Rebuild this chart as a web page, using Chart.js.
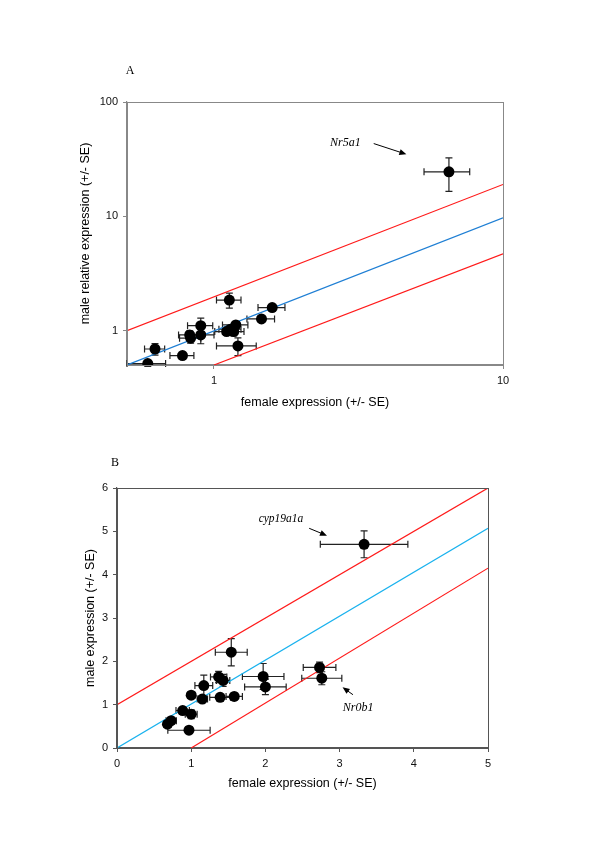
<!DOCTYPE html>
<html>
<head>
<meta charset="utf-8">
<title>Male vs female expression</title>
<script src="https://cdn.jsdelivr.net/npm/chart.js@4.4.1/dist/chart.umd.min.js"></script>
<style>
    html, body { margin: 0; padding: 0; background: #fff; }
    body { width: 600px; height: 854px; position: relative; overflow: hidden; }
    .panel { position: absolute; left: 0; width: 600px; }
    #wrapA { top: 0; height: 420px; }
    #wrapB { top: 420px; height: 380px; }
</style>
</head>
<body>
<div class="panel" id="wrapA"><canvas id="chartA" width="600" height="420"></canvas></div>
<div class="panel" id="wrapB"><canvas id="chartB" width="600" height="380"></canvas></div>
<script>
// ---- Panel A data (log-log) ----
const aFemale   = [6.5, 1.13, 1.59, 1.46, 0.90, 0.824, 0.90, 0.83, 1.19, 1.14, 1.106, 1.17, 1.21, 0.778, 0.625, 0.59];
const aMale     = [24.5, 1.85, 1.59, 1.265, 1.105, 0.917, 0.917, 0.858, 1.12, 1.03, 0.98, 0.98, 0.735, 0.605, 0.69, 0.515];
const aFemaleSE = [1.17, 0.11, 0.17, 0.16, 0.09, 0.07, 0.10, 0.07, 0.12, 0.10, 0.10, 0.10, 0.19, 0.074, 0.05, 0.09];
const aMaleSE   = [8.0, 0.28, 0.08, 0.08, 0.18, 0.08, 0.15, 0.08, 0.08, 0.06, 0.06, 0.08, 0.13, 0.04, 0.08, 0.03];
const aXTicks = [1, 10];
const aYTicks = [1, 10, 100];
const aUpper = [{x: 0.5, y: 1}, {x: 10, y: 19}];
const aMid   = [{x: 0.5, y: 0.5}, {x: 10, y: 9.7}];
const aLower = [{x: 1, y: 0.5}, {x: 10, y: 4.7}];

// ---- Panel B data (linear) ----
const bFemale   = [3.33, 1.54, 2.73, 2.76, 1.97, 2.00, 1.37, 1.43, 1.17, 1.00, 1.15, 1.39, 1.58, 0.885, 1.00, 0.73, 0.68, 0.97];
const bMale     = [4.70, 2.21, 1.86, 1.61, 1.65, 1.41, 1.64, 1.56, 1.44, 1.22, 1.13, 1.17, 1.19, 0.865, 0.78, 0.63, 0.55, 0.41];
const bFemaleSE = [0.59, 0.215, 0.22, 0.27, 0.28, 0.28, 0.11, 0.09, 0.12, 0.05, 0.07, 0.14, 0.11, 0.09, 0.08, 0.07, 0.05, 0.285];
const bMaleSE   = [0.31, 0.315, 0.12, 0.15, 0.30, 0.18, 0.13, 0.14, 0.24, 0.05, 0.05, 0.05, 0.05, 0.05, 0.10, 0.05, 0.05, 0.03];
const bUpper = [{x: 0, y: 1}, {x: 5, y: 6}];
const bMid   = [{x: 0, y: 0}, {x: 5, y: 5.07}];
const bLower = [{x: 1, y: 0}, {x: 5, y: 4.15}];

const SANS = "'Liberation Sans', Arial, sans-serif";
const SERIF = "'Liberation Serif', 'Times New Roman', serif";

// error bars, frame, panel letter and annotations
const extrasPlugin = {
    id: 'extras',
    beforeDatasetsDraw(chart, args, opts) {
        const ctx = chart.ctx;
        const xs = chart.scales.x, ys = chart.scales.y;
        ctx.save();
        ctx.strokeStyle = opts.barColor;
        ctx.lineWidth = 1.2;
        const cap = 3.5;
        opts.xv.forEach((xv, i) => {
            const px = xs.getPixelForValue(xv);
            const py = ys.getPixelForValue(opts.yv[i]);
            const x1 = xs.getPixelForValue(xv - opts.xe[i]);
            const x2 = xs.getPixelForValue(xv + opts.xe[i]);
            const y1 = ys.getPixelForValue(opts.yv[i] - opts.ye[i]);
            const y2 = ys.getPixelForValue(opts.yv[i] + opts.ye[i]);
            ctx.beginPath();
            ctx.moveTo(x1, py); ctx.lineTo(x2, py);
            ctx.moveTo(x1, py - cap); ctx.lineTo(x1, py + cap);
            ctx.moveTo(x2, py - cap); ctx.lineTo(x2, py + cap);
            ctx.moveTo(px, y1); ctx.lineTo(px, y2);
            ctx.moveTo(px - cap, y1); ctx.lineTo(px + cap, y1);
            ctx.moveTo(px - cap, y2); ctx.lineTo(px + cap, y2);
            ctx.stroke();
        });
        ctx.restore();
    },
    afterDraw(chart, args, opts) {
        const ctx = chart.ctx;
        const a = chart.chartArea;
        const xs = chart.scales.x, ys = chart.scales.y;
        ctx.save();
        // frame round the plot
        ctx.strokeStyle = opts.frameColor;
        ctx.lineWidth = 1;
        ctx.strokeRect(Math.round(a.left) + 0.5, Math.round(a.top) + 0.5,
            Math.round(a.right - a.left), Math.round(a.bottom - a.top));
        // panel letter
        ctx.fillStyle = '#000';
        ctx.font = '12px ' + SERIF;
        ctx.textAlign = 'center';
        ctx.textBaseline = 'middle';
        ctx.fillText(opts.letter, a.left + opts.letterDx, a.top + opts.letterDy);
        // gene labels with arrows
        opts.notes.forEach(n => {
            ctx.font = 'italic ' + n.size + 'px ' + SERIF;
            ctx.fillText(n.text, xs.getPixelForValue(n.x), ys.getPixelForValue(n.y));
            const sx = xs.getPixelForValue(n.ax1), sy = ys.getPixelForValue(n.ay1);
            const ex = xs.getPixelForValue(n.ax2), ey = ys.getPixelForValue(n.ay2);
            const ang = Math.atan2(ey - sy, ex - sx);
            ctx.strokeStyle = '#000';
            ctx.lineWidth = 1;
            ctx.beginPath();
            ctx.moveTo(sx, sy); ctx.lineTo(ex - 4 * Math.cos(ang), ey - 4 * Math.sin(ang));
            ctx.stroke();
            ctx.beginPath();
            ctx.moveTo(ex, ey);
            ctx.lineTo(ex - 7 * Math.cos(ang) + 3 * Math.sin(ang), ey - 7 * Math.sin(ang) - 3 * Math.cos(ang));
            ctx.lineTo(ex - 7 * Math.cos(ang) - 3 * Math.sin(ang), ey - 7 * Math.sin(ang) + 3 * Math.cos(ang));
            ctx.closePath();
            ctx.fill();
        });
        ctx.restore();
    }
};

function pts(xv, yv) {
    return xv.map((x, i) => ({x: x, y: yv[i]}));
}

function refLine(data, color) {
    return {
        data: data, showLine: true, borderColor: color, borderWidth: 1.2,
        pointRadius: 0, fill: false
    };
}

function axis(type, min, max, titleText, titlePad, size, color, tickVals) {
    const s = {
        type: type, min: min, max: max,
        border: {display: true, color: color, width: 1.2},
        grid: {drawOnChartArea: false, drawTicks: true, tickLength: 4, color: color},
        ticks: {color: '#111', padding: 5, font: {family: SANS, size: 11}},
        title: {display: true, text: titleText, color: '#000', padding: titlePad,
                font: {family: SANS, size: 12.5}},
        afterFit: size
    };
    if (tickVals) {
        s.afterBuildTicks = sc => { sc.ticks = tickVals.map(v => ({value: v})); };
        s.ticks.callback = v => String(v);
    } else {
        s.ticks.stepSize = 1;
    }
    return s;
}

// Panel A
new Chart(document.getElementById('chartA'), {
    type: 'scatter',
    data: {
        datasets: [
            {data: pts(aFemale, aMale), backgroundColor: '#000', borderWidth: 0, pointRadius: 5.5},
            refLine(aUpper, '#ff1a1a'),
            refLine(aMid, '#1f7fd4'),
            refLine(aLower, '#ff1a1a')
        ]
    },
    options: {
        responsive: false,
        animation: false,
        layout: {padding: {top: 102, right: 97, left: 0, bottom: 0}},
        plugins: {
            legend: {display: false},
            tooltip: {enabled: false},
            extras: {
                xv: aFemale, yv: aMale, xe: aFemaleSE, ye: aMaleSE,
                barColor: '#222', frameColor: '#888',
                letter: 'A', letterDx: 3, letterDy: -31,
                notes: [{text: 'Nr5a1', size: 12, x: 2.85, y: 43.6, ax1: 3.57, ay1: 43.3, ax2: 4.63, ay2: 34.9}]
            }
        },
        scales: {
            x: axis('logarithmic', 0.5, 10, 'female expression (+/- SE)', {bottom: 9.5},
                    s => { s.height = 55; }, '#888', aXTicks),
            y: axis('logarithmic', 0.5, 100, 'male relative expression (+/- SE)', {top: 78},
                    s => { s.width = 127; }, '#888', aYTicks)
        }
    },
    plugins: [extrasPlugin]
});

// Panel B
new Chart(document.getElementById('chartB'), {
    type: 'scatter',
    data: {
        datasets: [
            {data: pts(bFemale, bMale), backgroundColor: '#000', borderWidth: 0, pointRadius: 5.5},
            refLine(bUpper, '#ff1a1a'),
            refLine(bMid, '#1ab2ee'),
            refLine(bLower, '#ff1a1a')
        ]
    },
    options: {
        responsive: false,
        animation: false,
        layout: {padding: {top: 68, right: 112, left: 0, bottom: 0}},
        plugins: {
            legend: {display: false},
            tooltip: {enabled: false},
            extras: {
                xv: bFemale, yv: bMale, xe: bFemaleSE, ye: bMaleSE,
                barColor: '#222', frameColor: '#555',
                letter: 'B', letterDx: -2, letterDy: -25,
                notes: [
                    {text: 'cyp19a1a', size: 11.5, x: 2.21, y: 5.28, ax1: 2.59, ay1: 5.07, ax2: 2.83, ay2: 4.90},
                    {text: 'Nr0b1', size: 12, x: 3.25, y: 0.93, ax1: 3.18, ay1: 1.23, ax2: 3.04, ay2: 1.40}
                ]
            }
        },
        scales: {
            x: axis('linear', 0, 5, 'female expression (+/- SE)', {bottom: 8.5},
                    s => { s.height = 52; }, '#555'),
            y: axis('linear', 0, 6, 'male expression (+/- SE)', {top: 83},
                    s => { s.width = 117; }, '#555')
        }
    },
    plugins: [extrasPlugin]
});
</script>
</body>
</html>
